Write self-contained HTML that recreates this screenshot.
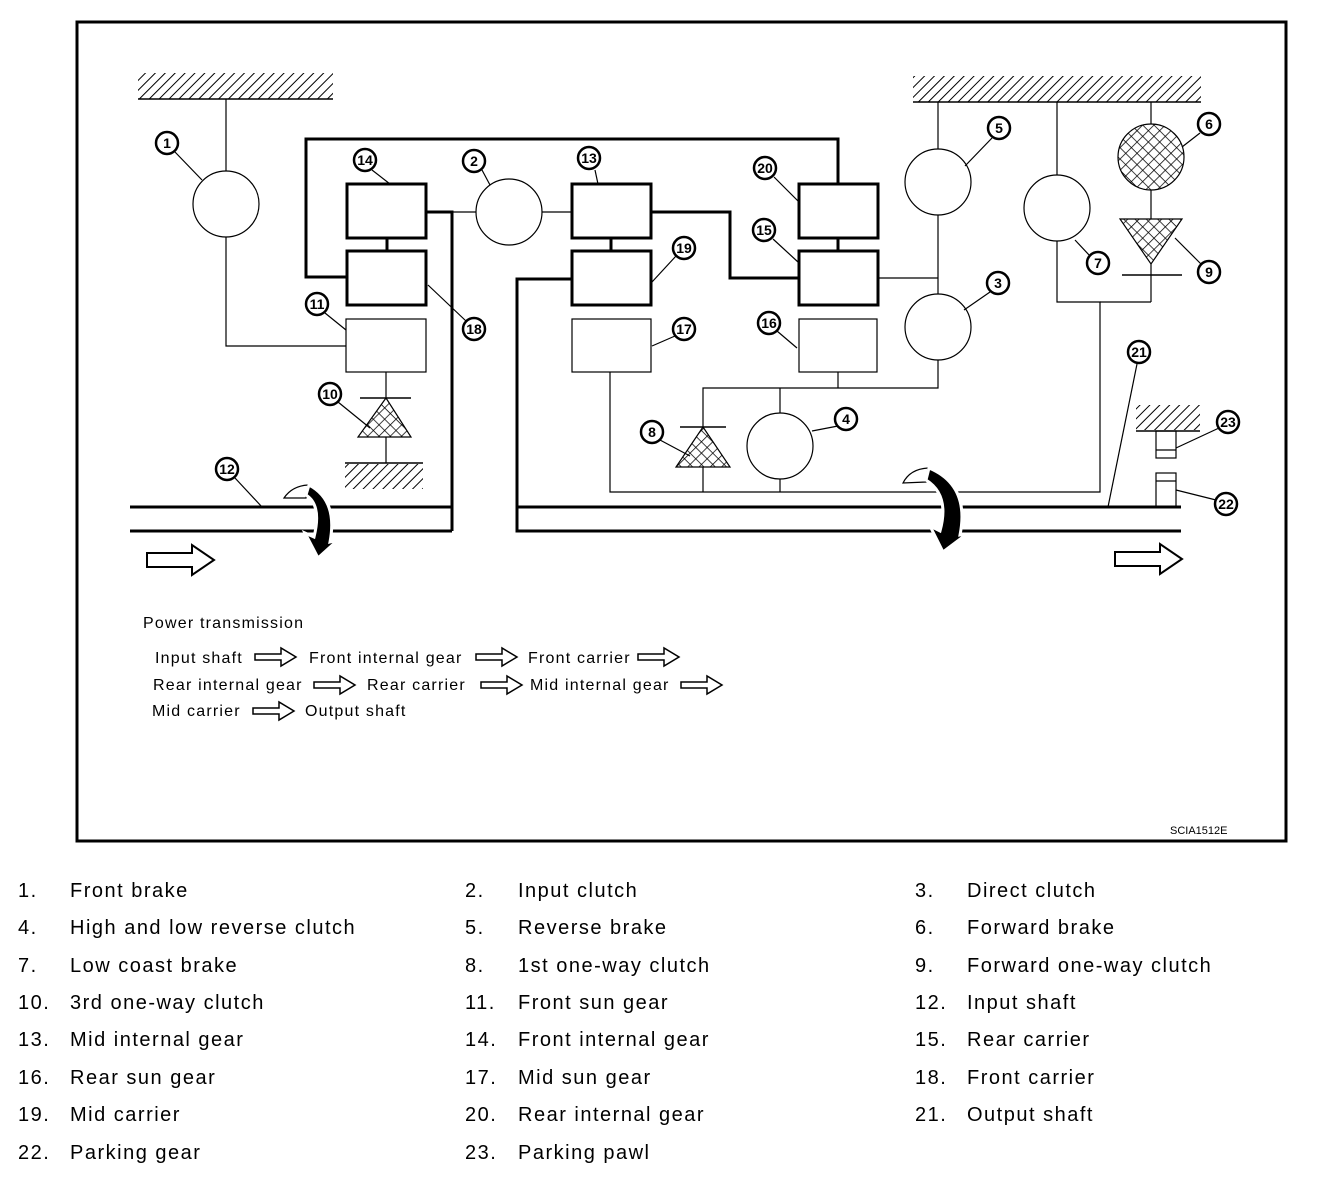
<!DOCTYPE html>
<html><head><meta charset="utf-8"><style>
body{margin:0;background:#fff}
svg{display:block}
.t{font-family:"Liberation Sans",sans-serif;font-size:16px;fill:#000;letter-spacing:1.2px}
.L{font-family:"Liberation Sans",sans-serif;font-size:20px;fill:#000;letter-spacing:1.5px}
.n{font-family:"Liberation Sans",sans-serif;font-size:14px;font-weight:bold;fill:#000;text-anchor:middle}
</style></head><body>
<svg width="1328" height="1182" viewBox="0 0 1328 1182" xmlns="http://www.w3.org/2000/svg">
<defs>
<pattern id="h" width="7" height="7" patternUnits="userSpaceOnUse" patternTransform="rotate(45)">
<line x1="0" y1="0" x2="0" y2="7" stroke="#000" stroke-width="2"/></pattern>
<pattern id="x" width="8" height="8" patternUnits="userSpaceOnUse" patternTransform="rotate(45)">
<rect width="8" height="8" fill="#fff"/>
<line x1="0" y1="0" x2="0" y2="8" stroke="#000" stroke-width="1.5"/>
<line x1="0" y1="0" x2="8" y2="0" stroke="#000" stroke-width="1.5"/></pattern>
<g id="ha"><path d="M0,-7 H45 V-15 L67,0 L45,15 V7 H0 Z" fill="#fff" stroke="#000" stroke-width="2"/></g>
<g id="sa"><path d="M0,-3 H26 V-9 L41,0 L26,9 V3 H0 Z" fill="#fff" stroke="#000" stroke-width="1.5"/></g>
</defs>
<rect x="77" y="22" width="1209" height="819" fill="none" stroke="#000" stroke-width="3"/>

<g fill="none" stroke="#000">
<rect x="138" y="73" width="195" height="26" fill="url(#h)" stroke="none"/>
<line x1="138" y1="99" x2="333" y2="99" stroke-width="1.5"/>
<rect x="913" y="76" width="288" height="26" fill="url(#h)" stroke="none"/>
<line x1="913" y1="102" x2="1201" y2="102" stroke-width="1.5"/>
<rect x="345" y="464" width="78" height="25" fill="url(#h)" stroke="none"/>
<line x1="345" y1="463" x2="423" y2="463" stroke-width="1.5"/>
<rect x="1136" y="405" width="64" height="25" fill="url(#h)" stroke="none"/>
<line x1="1136" y1="431" x2="1200" y2="431" stroke-width="1.5"/>

<g stroke-width="1.2">
<line x1="226" y1="99" x2="226" y2="171"/>
<circle cx="226" cy="204" r="33"/>
<polyline points="226,237 226,346 346,346"/>
<rect x="346" y="319" width="80" height="53"/>
<line x1="386" y1="372" x2="386" y2="398"/>
<line x1="386" y1="437" x2="386" y2="463"/>
<line x1="426" y1="212" x2="476" y2="212"/>
<circle cx="509" cy="212" r="33"/>
<line x1="542" y1="212" x2="572" y2="212"/>
<rect x="572" y="319" width="79" height="53"/>
<rect x="799" y="319" width="78" height="53"/>
<line x1="878" y1="278" x2="938" y2="278"/>
<line x1="938" y1="102" x2="938" y2="149"/>
<circle cx="938" cy="182" r="33"/>
<line x1="938" y1="215" x2="938" y2="294"/>
<circle cx="938" cy="327" r="33"/>
<polyline points="938,360 938,388 703,388 703,427"/>
<line x1="838" y1="372" x2="838" y2="388"/>
<line x1="780" y1="388" x2="780" y2="413"/>
<circle cx="780" cy="446" r="33"/>
<line x1="780" y1="479" x2="780" y2="492"/>
<line x1="703" y1="467" x2="703" y2="492"/>
<polyline points="610,372 610,492 1100,492 1100,302 1057,302 1057,241"/>
<line x1="1100" y1="302" x2="1151" y2="302"/>
<line x1="1151" y1="302" x2="1151" y2="264"/>
<line x1="1057" y1="102" x2="1057" y2="175"/>
<circle cx="1057" cy="208" r="33"/>
<line x1="1151" y1="102" x2="1151" y2="124"/>
<line x1="1151" y1="190" x2="1151" y2="219"/>
<rect x="1156" y="431" width="20" height="27"/>
<line x1="1156" y1="450" x2="1176" y2="450"/>
<rect x="1156" y="473" width="20" height="34"/>
<line x1="1156" y1="481" x2="1176" y2="481"/>
</g>
<circle cx="1151" cy="157" r="33" fill="url(#x)" stroke-width="1.2"/>
<path d="M1120,219 H1182 L1151,264 Z" fill="url(#x)" stroke-width="1.2"/>
<line x1="1122" y1="275" x2="1182" y2="275" stroke-width="1.5"/>
<path d="M386,398 L411,437 H358 Z" fill="url(#x)" stroke-width="1.2"/>
<line x1="360" y1="398" x2="411" y2="398" stroke-width="1.5"/>
<path d="M703,427 L730,467 H676 Z" fill="url(#x)" stroke-width="1.2"/>
<line x1="680" y1="427" x2="726" y2="427" stroke-width="1.5"/>

<g stroke-width="3">
<rect x="347" y="184" width="79" height="54"/>
<rect x="347" y="251" width="79" height="54"/>
<line x1="387" y1="238" x2="387" y2="251"/>
<polyline points="347,277 306,277 306,139 838,139 838,184"/>
<polyline points="426,212 452,212 452,531"/>
<line x1="130" y1="507" x2="452" y2="507"/>
<line x1="130" y1="531" x2="452" y2="531"/>
<rect x="572" y="184" width="79" height="54"/>
<rect x="572" y="251" width="79" height="54"/>
<line x1="611" y1="238" x2="611" y2="251"/>
<polyline points="572,279 517,279 517,531 1181,531"/>
<line x1="517" y1="507" x2="1181" y2="507"/>
<polyline points="651,212 730,212 730,278 799,278"/>
<rect x="799" y="184" width="79" height="54"/>
<rect x="799" y="251" width="79" height="54"/>
<line x1="838" y1="238" x2="838" y2="251"/>
</g>

<g>
<path d="M284,498 Q292,486 308,485 L306,498 Z" fill="#fff" stroke-width="1.2"/>
<path d="M309,485 Q338,500 330,542 L338,540 L318,558 L305,533 L314,537 Q322,505 306,495 Z" fill="#000" stroke="#fff" stroke-width="3"/>
<path d="M903,483 Q910,469 928,468 L926,482 Z" fill="#fff" stroke-width="1.2"/>
<path d="M929,468 Q970,485 960,535 L967,534 L943,552 L930,526 L940,531 Q950,495 926,480 Z" fill="#000" stroke="#fff" stroke-width="3"/>
</g>
<use href="#ha" x="147" y="560"/>
<use href="#ha" x="1115" y="559"/>

<g stroke-width="1.2">
<line x1="175" y1="152" x2="202" y2="180"/>
<line x1="372" y1="170" x2="390" y2="184"/>
<line x1="482" y1="170" x2="490" y2="185"/>
<line x1="595" y1="170" x2="598" y2="184"/>
<line x1="774" y1="177" x2="798" y2="201"/>
<line x1="773" y1="239" x2="798" y2="262"/>
<line x1="992" y1="138" x2="965" y2="166"/>
<line x1="1200" y1="133" x2="1182" y2="147"/>
<line x1="1090" y1="256" x2="1075" y2="240"/>
<line x1="1201" y1="264" x2="1175" y2="238"/>
<line x1="990" y1="292" x2="964" y2="310"/>
<line x1="676" y1="256" x2="652" y2="282"/>
<line x1="675" y1="336" x2="652" y2="346"/>
<line x1="777" y1="331" x2="797" y2="348"/>
<line x1="466" y1="321" x2="428" y2="285"/>
<line x1="325" y1="313" x2="346" y2="330"/>
<line x1="338" y1="402" x2="370" y2="428"/>
<line x1="235" y1="478" x2="262" y2="507"/>
<line x1="660" y1="440" x2="690" y2="456"/>
<line x1="838" y1="426" x2="812" y2="431"/>
<line x1="1137" y1="364" x2="1108" y2="507"/>
<line x1="1219" y1="428" x2="1176" y2="448"/>
<line x1="1216" y1="500" x2="1176" y2="490"/>
</g>
<g stroke-width="2.5" fill="#fff">
<circle cx="167" cy="143" r="11"/><circle cx="365" cy="160" r="11"/><circle cx="474" cy="161" r="11"/>
<circle cx="589" cy="158" r="11"/><circle cx="765" cy="168" r="11"/><circle cx="764" cy="230" r="11"/>
<circle cx="999" cy="128" r="11"/><circle cx="1209" cy="124" r="11"/><circle cx="1098" cy="263" r="11"/>
<circle cx="1209" cy="272" r="11"/><circle cx="998" cy="283" r="11"/><circle cx="684" cy="248" r="11"/>
<circle cx="684" cy="329" r="11"/><circle cx="769" cy="323" r="11"/><circle cx="474" cy="329" r="11"/>
<circle cx="317" cy="304" r="11"/><circle cx="330" cy="394" r="11"/><circle cx="227" cy="469" r="11"/>
<circle cx="652" cy="432" r="11"/><circle cx="846" cy="419" r="11"/><circle cx="1139" cy="352" r="11"/>
<circle cx="1228" cy="422" r="11"/><circle cx="1226" cy="504" r="11"/>
</g>
</g>
<g class="n">
<text x="167" y="148">1</text><text x="365" y="165">14</text><text x="474" y="166">2</text>
<text x="589" y="163">13</text><text x="765" y="173">20</text><text x="764" y="235">15</text>
<text x="999" y="133">5</text><text x="1209" y="129">6</text><text x="1098" y="268">7</text>
<text x="1209" y="277">9</text><text x="998" y="288">3</text><text x="684" y="253">19</text>
<text x="684" y="334">17</text><text x="769" y="328">16</text><text x="474" y="334">18</text>
<text x="317" y="309">11</text><text x="330" y="399">10</text><text x="227" y="474">12</text>
<text x="652" y="437">8</text><text x="846" y="424">4</text><text x="1139" y="357">21</text>
<text x="1228" y="427">23</text><text x="1226" y="509">22</text>
</g>

<text class="t" x="143" y="628">Power transmission</text>
<text class="t" x="155" y="663">Input shaft</text>
<use href="#sa" x="255" y="657"/>
<text class="t" x="309" y="663">Front internal gear</text>
<use href="#sa" x="476" y="657"/>
<text class="t" x="528" y="663">Front carrier</text>
<use href="#sa" x="638" y="657"/>
<text class="t" x="153" y="690">Rear internal gear</text>
<use href="#sa" x="314" y="685"/>
<text class="t" x="367" y="690">Rear carrier</text>
<use href="#sa" x="481" y="685"/>
<text class="t" x="530" y="690">Mid internal gear</text>
<use href="#sa" x="681" y="685"/>
<text class="t" x="152" y="716">Mid carrier</text>
<use href="#sa" x="253" y="711"/>
<text class="t" x="305" y="716">Output shaft</text>
<text x="1170" y="834" style="font-family:'Liberation Sans',sans-serif;font-size:11px">SCIA1512E</text>

<g class="L">
<text x="18" y="897">1.</text><text x="70" y="897">Front brake</text>
<text x="465" y="897">2.</text><text x="518" y="897">Input clutch</text>
<text x="915" y="897">3.</text><text x="967" y="897">Direct clutch</text>
<text x="18" y="934">4.</text><text x="70" y="934">High and low reverse clutch</text>
<text x="465" y="934">5.</text><text x="518" y="934">Reverse brake</text>
<text x="915" y="934">6.</text><text x="967" y="934">Forward brake</text>
<text x="18" y="972">7.</text><text x="70" y="972">Low coast brake</text>
<text x="465" y="972">8.</text><text x="518" y="972">1st one-way clutch</text>
<text x="915" y="972">9.</text><text x="967" y="972">Forward one-way clutch</text>
<text x="18" y="1009">10.</text><text x="70" y="1009">3rd one-way clutch</text>
<text x="465" y="1009">11.</text><text x="518" y="1009">Front sun gear</text>
<text x="915" y="1009">12.</text><text x="967" y="1009">Input shaft</text>
<text x="18" y="1046">13.</text><text x="70" y="1046">Mid internal gear</text>
<text x="465" y="1046">14.</text><text x="518" y="1046">Front internal gear</text>
<text x="915" y="1046">15.</text><text x="967" y="1046">Rear carrier</text>
<text x="18" y="1084">16.</text><text x="70" y="1084">Rear sun gear</text>
<text x="465" y="1084">17.</text><text x="518" y="1084">Mid sun gear</text>
<text x="915" y="1084">18.</text><text x="967" y="1084">Front carrier</text>
<text x="18" y="1121">19.</text><text x="70" y="1121">Mid carrier</text>
<text x="465" y="1121">20.</text><text x="518" y="1121">Rear internal gear</text>
<text x="915" y="1121">21.</text><text x="967" y="1121">Output shaft</text>
<text x="18" y="1159">22.</text><text x="70" y="1159">Parking gear</text>
<text x="465" y="1159">23.</text><text x="518" y="1159">Parking pawl</text>
</g>
</svg>
</body></html>
